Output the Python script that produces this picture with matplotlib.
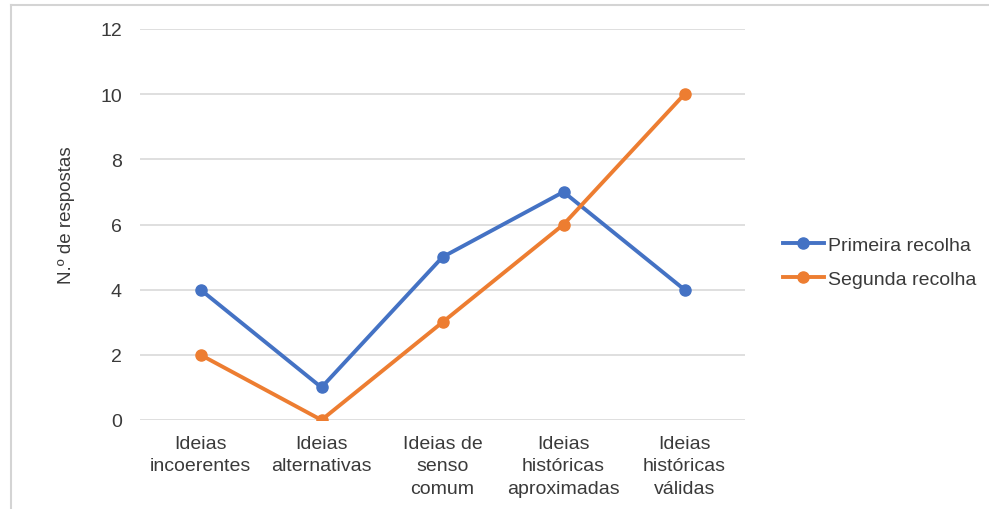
import matplotlib
matplotlib.use("Agg")
import matplotlib.pyplot as plt
from matplotlib.lines import Line2D

plt.rcParams['font.family'] = ['Liberation Sans', 'DejaVu Sans']

categories = [
    "Ideias\nincoerentes",
    "Ideias\nalternativas",
    "Ideias de\nsenso\ncomum",
    "Ideias\nhistóricas\naproximadas",
    "Ideias\nhistóricas\nválidas",
]
primeira = [4, 1, 5, 7, 4]
segunda = [2, 0, 3, 6, 10]
yticks = [0, 2, 4, 6, 8, 10, 12]

W, H = 989, 510
fig = plt.figure(figsize=(W / 100, H / 100), dpi=100)
ax = fig.add_axes([140 / W, 1 - 421 / H, (745 - 140) / W, (421 - 30) / H])

x = list(range(len(categories)))
blue = "#4472C4"
orange = "#ED7D31"
text_col = "#3a3a3a"
ax.plot(x, primeira, color=blue, lw=2.8, marker="o", ms=8, label="Primeira recolha", zorder=3)
ax.plot(x, segunda, color=orange, lw=2.8, marker="o", ms=8, label="Segunda recolha", zorder=3)

ax.set_xlim(-0.5, len(categories) - 0.5)
ax.set_ylim(0, 12)
ax.set_yticks(yticks)
ax.yaxis.grid(True, color="#d9d9d9", lw=1.2)
ax.set_axisbelow(True)
for s in ax.spines.values():
    s.set_visible(False)
ax.tick_params(axis="both", length=0, labelsize=14, colors=text_col)
ax.tick_params(axis="y", pad=13)
ax.tick_params(axis="x", pad=11)
ax.set_xticks(x)
ax.set_xticklabels(categories, linespacing=1.4)
ax.set_ylabel("N.º de respostas", fontsize=13.5, color=text_col)
ax.yaxis.set_label_coords(-0.108, 0.527)

ax.legend(loc="center left", frameon=False,
          fontsize=14, handlelength=2.15, handletextpad=0.2, labelspacing=0.85,
          labelcolor=text_col)
leg = ax.get_legend()
leg.set_bbox_to_anchor((765 / W, 1 - 263 / H), transform=fig.transFigure)

# thin frame around the chart area
fig.add_artist(Line2D([11 / W, 11 / W], [0, 1 - 6 / H], transform=fig.transFigure,
                      color="#d4d4d4", lw=1.5))
fig.add_artist(Line2D([11 / W, 1], [1 - 6 / H, 1 - 6 / H], transform=fig.transFigure,
                      color="#d4d4d4", lw=1.5))

fig.savefig("out.png", dpi=100, facecolor="white")
